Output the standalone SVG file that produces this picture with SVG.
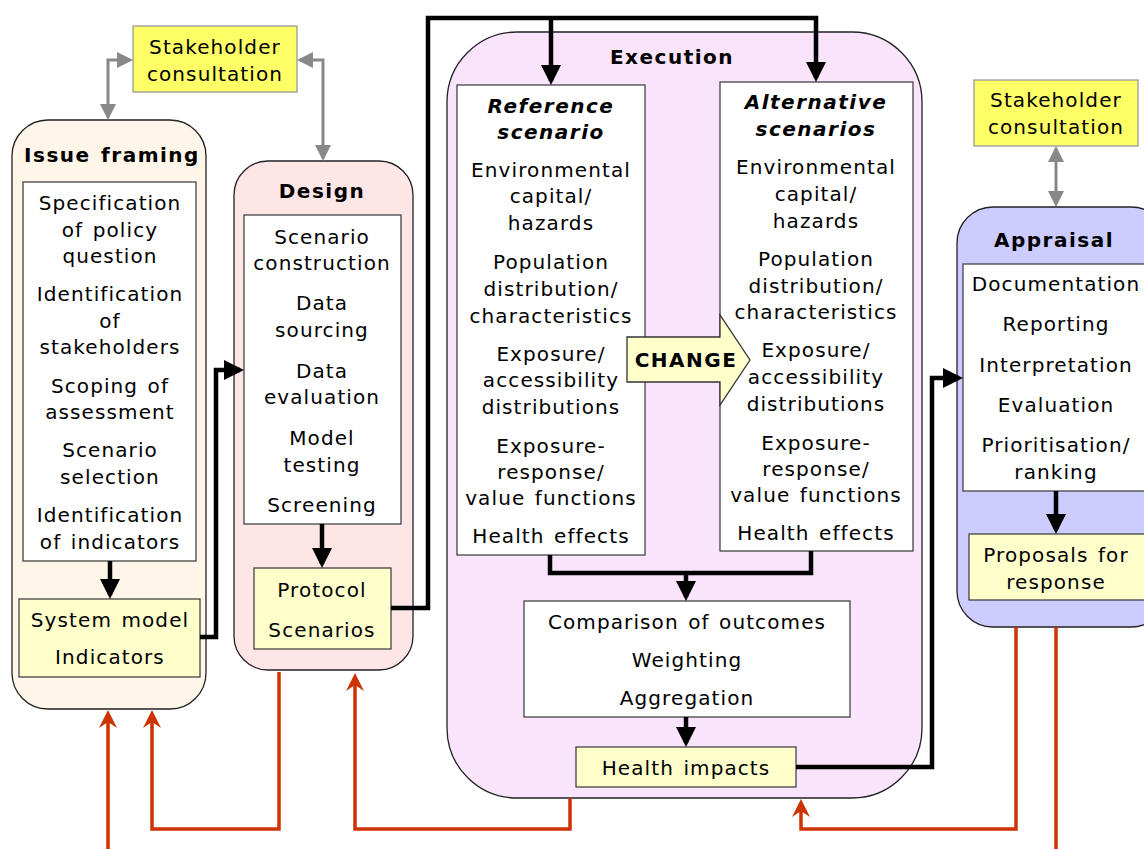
<svg xmlns="http://www.w3.org/2000/svg" width="1144" height="849" viewBox="0 0 1144 849">
<defs>
<style>
text{font-family:"DejaVu Sans","Verdana","Liberation Sans",sans-serif;font-size:20px;fill:#000;text-anchor:middle;letter-spacing:1.1px;word-spacing:2px}
.b{font-weight:bold;letter-spacing:1.5px}
.bi{font-weight:bold;font-style:italic;letter-spacing:1.5px}
.stage{stroke:#222;stroke-width:1.3}
.inner{fill:#fff;stroke:#444;stroke-width:1.3}
.out{fill:#ffffcc;stroke:#444;stroke-width:1.3}
.stake{fill:#ffff66;stroke:#999;stroke-width:1.3}
.blk{fill:none;stroke:#000;stroke-width:4.5}
.gry{fill:none;stroke:#888;stroke-width:3}
.red{fill:none;stroke:#cc3300;stroke-width:3.5}
</style>
<marker id="ab" viewBox="0 0 20 20" refX="16" refY="10" markerWidth="20" markerHeight="20" markerUnits="userSpaceOnUse" orient="auto"><path d="M0,0 L20,10 L0,20 z" fill="#000"/></marker>
<marker id="ag" viewBox="0 0 16 16" refX="13" refY="8" markerWidth="16" markerHeight="16" markerUnits="userSpaceOnUse" orient="auto-start-reverse"><path d="M0,0 L16,8 L0,16 z" fill="#888"/></marker>
<marker id="ar" viewBox="0 0 18 18" refX="6" refY="9" markerWidth="18" markerHeight="18" markerUnits="userSpaceOnUse" orient="auto"><path d="M0,0 L18,9 L0,18 L6,9 z" fill="#cc3300"/></marker>
</defs>
<rect width="1144" height="849" fill="#fff"/>

<g id="stakeholder1">
<rect class="stake" x="133" y="26" width="164" height="66"/>
<text x="215" y="54">Stakeholder</text>
<text x="215" y="81">consultation</text>
</g>

<g id="issue-framing">
<rect class="stage" x="12" y="120" width="194" height="589" rx="36" fill="#fff5e8"/>
<text class="b" x="112" y="162">Issue framing</text>
<rect class="inner" x="23" y="182" width="173" height="379"/>
<text x="110" y="210">Specification</text>
<text x="110" y="237">of policy</text>
<text x="110" y="263">question</text>
<text x="110" y="301">Identification</text>
<text x="110" y="328">of</text>
<text x="110" y="354">stakeholders</text>
<text x="110" y="393">Scoping of</text>
<text x="110" y="419">assessment</text>
<text x="110" y="457">Scenario</text>
<text x="110" y="484">selection</text>
<text x="110" y="522">Identification</text>
<text x="110" y="549">of indicators</text>
</g>
<g id="system-model">
<rect class="out" x="19" y="599" width="181" height="78"/>
<text x="110" y="627">System model</text>
<text x="110" y="664">Indicators</text>
</g>

<g id="design">
<rect class="stage" x="234" y="161" width="179" height="509" rx="34" fill="#ffe6e6"/>
<text class="b" x="322" y="198">Design</text>
<rect class="inner" x="244" y="215" width="157" height="309"/>
<text x="322" y="244">Scenario</text>
<text x="322" y="270">construction</text>
<text x="322" y="310">Data</text>
<text x="322" y="337">sourcing</text>
<text x="322" y="378">Data</text>
<text x="322" y="404">evaluation</text>
<text x="322" y="445">Model</text>
<text x="322" y="472">testing</text>
<text x="322" y="512">Screening</text>
</g>
<g id="protocol">
<rect class="out" x="254" y="568" width="137" height="81"/>
<text x="322" y="597">Protocol</text>
<text x="322" y="637">Scenarios</text>
</g>

<g id="execution">
<rect class="stage" x="447" y="32" width="475" height="766" rx="70" fill="#f9e4fc"/>
<text class="b" x="672" y="64">Execution</text>
</g>
<g id="reference-scenario">
<rect class="inner" x="457" y="85" width="188" height="470"/>
<text class="bi" x="551" y="113">Reference</text>
<text class="bi" x="551" y="139">scenario</text>
<text x="551" y="177">Environmental</text>
<text x="551" y="203">capital/</text>
<text x="551" y="230">hazards</text>
<text x="551" y="269">Population</text>
<text x="551" y="296">distribution/</text>
<text x="551" y="323">characteristics</text>
<text x="551" y="361">Exposure/</text>
<text x="551" y="387">accessibility</text>
<text x="551" y="414">distributions</text>
<text x="551" y="453">Exposure-</text>
<text x="551" y="479">response/</text>
<text x="551" y="505">value functions</text>
<text x="551" y="543">Health effects</text>
</g>
<g id="alternative-scenarios">
<rect class="inner" x="720" y="82" width="193" height="469"/>
<text class="bi" x="816" y="109">Alternative</text>
<text class="bi" x="816" y="136">scenarios</text>
<text x="816" y="174">Environmental</text>
<text x="816" y="201">capital/</text>
<text x="816" y="228">hazards</text>
<text x="816" y="266">Population</text>
<text x="816" y="293">distribution/</text>
<text x="816" y="319">characteristics</text>
<text x="816" y="357">Exposure/</text>
<text x="816" y="384">accessibility</text>
<text x="816" y="411">distributions</text>
<text x="816" y="450">Exposure-</text>
<text x="816" y="476">response/</text>
<text x="816" y="502">value functions</text>
<text x="816" y="540">Health effects</text>
</g>
<g id="change">
<path d="M627,337 H720 V315 L750,360 L720,405 V382 H627 Z" fill="#ffffcc" stroke="#333" stroke-width="1.3"/>
<text class="b" x="686" y="367">CHANGE</text>
</g>
<g id="comparison">
<rect class="inner" x="524" y="601" width="326" height="116"/>
<text x="687" y="629">Comparison of outcomes</text>
<text x="687" y="667">Weighting</text>
<text x="687" y="705">Aggregation</text>
</g>
<g id="health-impacts">
<rect class="out" x="576" y="747" width="220" height="40"/>
<text x="686" y="775">Health impacts</text>
</g>

<g id="stakeholder2">
<rect class="stake" x="974" y="80" width="164" height="66"/>
<text x="1056" y="107">Stakeholder</text>
<text x="1056" y="134">consultation</text>
</g>
<g id="appraisal">
<rect class="stage" x="957" y="207" width="210" height="420" rx="36" fill="#ccccff"/>
<text class="b" x="1054" y="247">Appraisal</text>
<rect class="inner" x="963" y="264" width="190" height="227"/>
<text x="1056" y="291">Documentation</text>
<text x="1056" y="331">Reporting</text>
<text x="1056" y="372">Interpretation</text>
<text x="1056" y="412">Evaluation</text>
<text x="1056" y="452">Prioritisation/</text>
<text x="1056" y="479">ranking</text>
</g>
<g id="proposals">
<rect class="out" x="969" y="534" width="184" height="66"/>
<text x="1056" y="562">Proposals for</text>
<text x="1056" y="589">response</text>
</g>

<g id="connectors">
<path class="gry" d="M130,60 H108 V117" marker-start="url(#ag)" marker-end="url(#ag)"/>
<path class="gry" d="M300,60 H323 V158" marker-start="url(#ag)" marker-end="url(#ag)"/>
<path class="gry" d="M1056,149 V204" marker-start="url(#ag)" marker-end="url(#ag)"/>

<path class="blk" d="M110,561 V595" marker-end="url(#ab)"/>
<path class="blk" d="M200,637 H216 V370 H240" marker-end="url(#ab)"/>
<path class="blk" d="M322,524 V564" marker-end="url(#ab)"/>
<path class="blk" d="M391,608 H428 V18 H816 V78" marker-end="url(#ab)"/>
<path class="blk" d="M551,18 V81" marker-end="url(#ab)"/>
<path class="blk" d="M550,555 V573 H811 V551"/>
<path class="blk" d="M686,573 V597" marker-end="url(#ab)"/>
<path class="blk" d="M686,717 V743" marker-end="url(#ab)"/>
<path class="blk" d="M796,767 H932 V378 H959" marker-end="url(#ab)"/>
<path class="blk" d="M1056,491 V530" marker-end="url(#ab)"/>

<path class="red" d="M108,849 V722" marker-end="url(#ar)"/>
<path class="red" d="M279,672 V829 H152 V722" marker-end="url(#ar)"/>
<path class="red" d="M570,798 V829 H355 V685" marker-end="url(#ar)"/>
<path class="red" d="M1016,627 V829 H801 V811" marker-end="url(#ar)"/>
<path class="red" d="M1056,627 V849"/>
</g>
</svg>
